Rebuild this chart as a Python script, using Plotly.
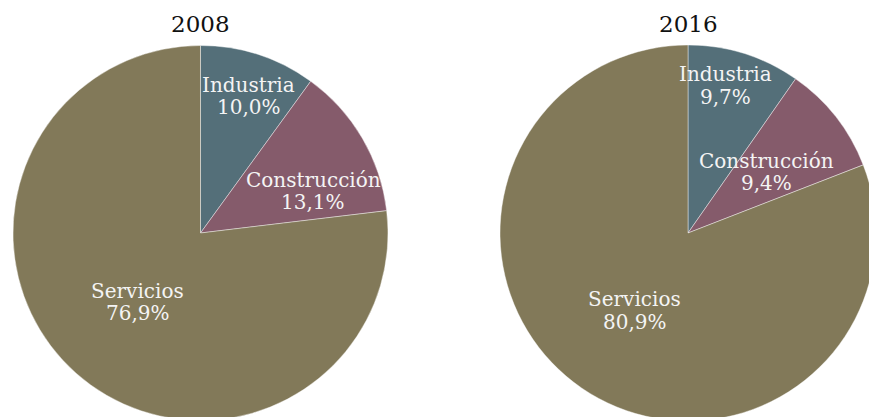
import math
import plotly.graph_objects as go

sectors = ["Industria", "Construcción", "Servicios"]
values_2008 = [10.0, 13.1, 76.9]
values_2016 = [9.7, 9.4, 80.9]
years = ["2008", "2016"]
colors = ["#546f79", "#855b6b", "#827959"]

W, H = 880, 425
font = "DejaVu Serif"
line_gap = 22.5  # px between label line and percent line

# pie placement in figure pixels: (centre x, centre y, radius)
pies = [(200.5, 233.0, 187.5), (688.0, 233.0, 188.0)]
# label placement styles (radius fraction, angular offset in degrees) per pie / slice
label_frac = [[0.775, 0.643, 0.498], [0.81, 0.53, 0.50]]
label_off = [[1.3, 10.0, 0.8], [-3.3, 0.3, 0.0]]


def dom(cx, cy, r):
    return dict(x=[(cx - r) / W, (cx + r) / W], y=[(H - cy - r) / H, (H - cy + r) / H])


fig = go.Figure()
for vals, (cx, cy, r) in zip([values_2008, values_2016], pies):
    fig.add_trace(go.Pie(
        labels=sectors, values=vals, sort=False, direction="clockwise", rotation=0,
        domain=dom(cx, cy, r),
        marker=dict(colors=colors, line=dict(color="rgba(255,255,255,0.6)", width=0.7)),
        textposition="none", hoverinfo="label+percent", showlegend=False,
    ))

for k, (vals, (cx, cy, r)) in enumerate(zip([values_2008, values_2016], pies)):
    total = sum(vals)
    cum = 0.0
    for i, (lab, v) in enumerate(zip(sectors, vals)):
        mid = (cum + v / 2) / total * 360 + label_off[k][i]
        cum += v
        a = math.radians(mid)
        rr = r * label_frac[k][i]
        px = cx + rr * math.sin(a)
        py = cy - rr * math.cos(a)
        pct = f"{v / total * 100:.1f}%".replace(".", ",")
        for txt, dy in ((lab, -line_gap / 2), (pct, line_gap / 2)):
            fig.add_annotation(text=txt, x=px / W, y=(H - py - dy) / H, xref="paper", yref="paper",
                               xanchor="center", yanchor="middle", showarrow=False,
                               font=dict(family=font, size=20, color="#f4f4f4"))

for yr, (cx, cy, r) in zip(years, pies):
    fig.add_annotation(text=yr, x=cx / W, y=(H - 24) / H, xref="paper", yref="paper",
                       xanchor="center", yanchor="middle", showarrow=False,
                       font=dict(family=font, size=23, color="#111111"))

fig.update_layout(width=W, height=H, margin=dict(l=0, r=0, t=0, b=0),
                  paper_bgcolor="white", separators=",.")

fig.write_html("out.html", config={"displayModeBar": False},
               post_script="document.body.style.margin='0';document.body.style.overflow='hidden';document.documentElement.style.overflow='hidden';")
